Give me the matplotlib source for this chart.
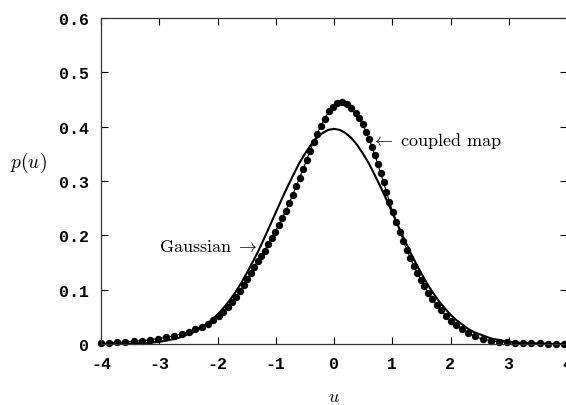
import matplotlib
matplotlib.use("Agg")
import matplotlib.pyplot as plt

plt.rcParams.update({
    "mathtext.fontset": "cm",
    "axes.unicode_minus": False,
    "axes.linewidth": 0.9,
    "axes.edgecolor": "#333333",
})

# Gaussian reference curve, read at steps of 0.1 in u
gauss_u = [round(-4.0 + 0.1 * k, 1) for k in range(81)]
gauss_half = [0.396, 0.394, 0.388, 0.379, 0.366, 0.350, 0.332, 0.311, 0.289, 0.266,
              0.242, 0.218, 0.194, 0.171, 0.150, 0.130, 0.111, 0.094, 0.079, 0.066,
              0.054, 0.044, 0.036, 0.028, 0.022, 0.018, 0.014, 0.010, 0.008, 0.006,
              0.004, 0.003, 0.002, 0.002, 0.001, 0.001, 0.001, 0.000, 0.000, 0.000,
              0.000]
gauss_p = gauss_half[::-1] + gauss_half[1:]

# coupled map distribution, one entry per plotted dot
map_u = [-4.00, -3.86, -3.72, -3.58, -3.44, -3.30, -3.16, -3.02, -2.88, -2.74,
         -2.61, -2.49, -2.38, -2.27, -2.17, -2.07, -1.98, -1.90, -1.82, -1.75,
         -1.68, -1.61, -1.55, -1.49, -1.43, -1.37, -1.31, -1.25, -1.19, -1.13,
         -1.07, -1.01, -0.95, -0.89, -0.83, -0.77, -0.71, -0.65, -0.59, -0.53,
         -0.47, -0.41, -0.35, -0.29, -0.23, -0.16, -0.09, -0.02, 0.06, 0.14,
         0.22, 0.30, 0.37, 0.43, 0.49, 0.55, 0.60, 0.65, 0.70, 0.75,
         0.80, 0.85, 0.90, 0.95, 1.01, 1.07, 1.13, 1.19, 1.25, 1.31,
         1.37, 1.43, 1.49, 1.55, 1.62, 1.69, 1.76, 1.84, 1.92, 2.00,
         2.09, 2.19, 2.30, 2.42, 2.55, 2.69, 2.83, 2.97, 3.11, 3.25,
         3.39, 3.53, 3.67, 3.81, 3.95]
map_p = [0.001, 0.002, 0.003, 0.004, 0.005, 0.006, 0.008, 0.010, 0.012, 0.015,
         0.019, 0.023, 0.027, 0.032, 0.037, 0.044, 0.051, 0.059, 0.068, 0.077,
         0.087, 0.098, 0.108, 0.119, 0.130, 0.141, 0.152, 0.162, 0.172, 0.184,
         0.196, 0.207, 0.219, 0.232, 0.245, 0.259, 0.274, 0.290, 0.306, 0.322,
         0.339, 0.356, 0.372, 0.387, 0.401, 0.415, 0.428, 0.437, 0.443, 0.445,
         0.442, 0.435, 0.426, 0.416, 0.404, 0.391, 0.378, 0.363, 0.348, 0.332,
         0.315, 0.298, 0.280, 0.262, 0.243, 0.225, 0.207, 0.190, 0.173, 0.158,
         0.144, 0.131, 0.118, 0.106, 0.094, 0.083, 0.072, 0.062, 0.052, 0.043,
         0.035, 0.027, 0.020, 0.014, 0.009, 0.006, 0.004, 0.003, 0.002, 0.001,
         0.001, 0.001, 0.000, 0.000, 0.000]

x_ticks = [-4, -3, -2, -1, 0, 1, 2, 3, 4]
y_ticks = [0.0, 0.1, 0.2, 0.3, 0.4, 0.5, 0.6]
y_tick_labels = ["0", "0.1", "0.2", "0.3", "0.4", "0.5", "0.6"]

fig = plt.figure(figsize=(5.66, 4.06), dpi=100)
ax = fig.add_axes([101 / 566, 61 / 406, 466 / 566, 326 / 406])

ax.plot(gauss_u, gauss_p, color="black", linewidth=1.5)
ax.plot(map_u, map_p, color="black", linewidth=0.8, marker="o",
        markersize=5.3, markeredgewidth=0, clip_on=False)

ax.set_xlim(-4, 4)
ax.set_ylim(0, 0.6)
ax.set_xticks(x_ticks)
ax.set_yticks(y_ticks)
ax.set_yticklabels(y_tick_labels)
ax.tick_params(direction="in", length=5, width=0.8, top=True, right=True,
               labelsize=12, pad=9)
for lab in ax.get_xticklabels() + ax.get_yticklabels():
    lab.set_fontfamily("Liberation Mono")
    lab.set_fontweight("bold")

ax.set_xlabel("$u$", fontsize=13, va="center")
ax.xaxis.set_label_coords(0.5, -0.158)
ax.set_ylabel("$p(u)$", fontsize=14, rotation=0, va="center")
ax.yaxis.set_label_coords(-0.155, 0.56)

ax.text(0.64, 0.375, r"$\leftarrow\ \mathrm{coupled\ map}$", fontsize=13,
        va="center", ha="left")
ax.text(-1.30, 0.180, r"$\mathrm{Gaussian}\ \rightarrow$", fontsize=13,
        va="center", ha="right")

fig.savefig("out.png", dpi=100)
